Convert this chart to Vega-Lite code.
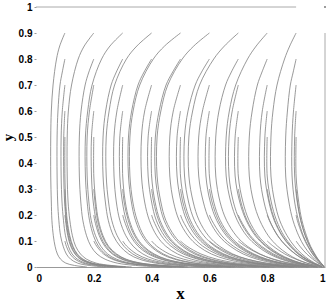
{"$schema":"https://vega.github.io/schema/vega-lite/v6.json","width":289,"height":260,"autosize":{"type":"none"},"padding":{"left":36,"top":7,"right":5,"bottom":37},"background":"white","config":{"view":{"stroke":null}},
"encoding":{
"x":{"field":"x","type":"quantitative","scale":{"domain":[0,1],"nice":false},"axis":{"values":[0,0.2,0.4,0.6,0.8,1],"format":"~g","grid":false,"ticks":false,"labelPadding":6,"labelOverlap":false,"labelFont":"Liberation Sans","labelFontWeight":"bold","labelFontSize":10,"labelColor":"black","domainColor":"#999999","title":"x","titleFont":"Liberation Serif","titleFontSize":17,"titleFontWeight":"bold","titleColor":"black","titleX":144,"titleY":31,"titleBaseline":"alphabetic"}},
"y":{"field":"y","type":"quantitative","scale":{"domain":[0,1],"nice":false},"axis":{"values":[0,0.1,0.2,0.3,0.4,0.5,0.6,0.7,0.8,0.9,1],"format":"~g","grid":false,"ticks":true,"tickSize":2,"tickColor":"#999999","labelPadding":2,"labelOverlap":false,"labelFont":"Liberation Sans","labelFontWeight":"bold","labelFontSize":10,"labelColor":"black","domain":false,"title":"y","titleFont":"Liberation Serif","titleFontSize":15,"titleFontWeight":"bold","titleColor":"black","titleX":-24,"titleY":130,"titleBaseline":"alphabetic"}}},
"layer":[
{"data":{"values":[
{"c":19,"x":0.1,"y":0.9},{"c":19,"x":0.082,"y":0.85},{"c":19,"x":0.071,"y":0.8},{"c":19,"x":0.059,"y":0.7},{"c":19,"x":0.053,"y":0.6},{"c":19,"x":0.051,"y":0.5},{"c":19,"x":0.051,"y":0.35},{"c":19,"x":0.053,"y":0.25},{"c":19,"x":0.055,"y":0.18},{"c":19,"x":0.06,"y":0.12},{"c":19,"x":0.066,"y":0.08},{"c":19,"x":0.074,"y":0.05},{"c":19,"x":0.085,"y":0.03},{"c":19,"x":0.103,"y":0.015},{"c":19,"x":0.133,"y":0.006},{"c":19,"x":0.176,"y":0},
{"c":18,"x":0.1,"y":0.8},{"c":18,"x":0.091,"y":0.75},{"c":18,"x":0.083,"y":0.7},{"c":18,"x":0.076,"y":0.6},{"c":18,"x":0.073,"y":0.5},{"c":18,"x":0.073,"y":0.35},{"c":18,"x":0.075,"y":0.25},{"c":18,"x":0.079,"y":0.18},{"c":18,"x":0.085,"y":0.12},{"c":18,"x":0.094,"y":0.08},{"c":18,"x":0.105,"y":0.05},{"c":18,"x":0.12,"y":0.03},{"c":18,"x":0.144,"y":0.015},{"c":18,"x":0.184,"y":0.006},{"c":18,"x":0.24,"y":0},
{"c":17,"x":0.1,"y":0.7},{"c":17,"x":0.091,"y":0.6},{"c":17,"x":0.087,"y":0.5},{"c":17,"x":0.087,"y":0.35},{"c":17,"x":0.09,"y":0.25},{"c":17,"x":0.095,"y":0.18},{"c":17,"x":0.102,"y":0.12},{"c":17,"x":0.112,"y":0.08},{"c":17,"x":0.125,"y":0.05},{"c":17,"x":0.143,"y":0.03},{"c":17,"x":0.171,"y":0.015},{"c":17,"x":0.216,"y":0.006},{"c":17,"x":0.279,"y":0},
{"c":16,"x":0.1,"y":0.6},{"c":16,"x":0.096,"y":0.5},{"c":16,"x":0.096,"y":0.35},{"c":16,"x":0.099,"y":0.25},{"c":16,"x":0.104,"y":0.18},{"c":16,"x":0.112,"y":0.12},{"c":16,"x":0.122,"y":0.08},{"c":16,"x":0.137,"y":0.05},{"c":16,"x":0.156,"y":0.03},{"c":16,"x":0.186,"y":0.015},{"c":16,"x":0.235,"y":0.006},{"c":16,"x":0.301,"y":0},
{"c":15,"x":0.1,"y":0.5},{"c":15,"x":0.1,"y":0.35},{"c":15,"x":0.103,"y":0.25},{"c":15,"x":0.108,"y":0.18},{"c":15,"x":0.117,"y":0.12},{"c":15,"x":0.128,"y":0.08},{"c":15,"x":0.143,"y":0.05},{"c":15,"x":0.163,"y":0.03},{"c":15,"x":0.194,"y":0.015},{"c":15,"x":0.244,"y":0.006},{"c":15,"x":0.312,"y":0},
{"c":13,"x":0.1,"y":0.3},{"c":13,"x":0.101,"y":0.25},{"c":13,"x":0.106,"y":0.18},{"c":13,"x":0.115,"y":0.12},{"c":13,"x":0.126,"y":0.08},{"c":13,"x":0.141,"y":0.05},{"c":13,"x":0.16,"y":0.03},{"c":13,"x":0.191,"y":0.015},{"c":13,"x":0.24,"y":0.006},{"c":13,"x":0.308,"y":0},
{"c":12,"x":0.1,"y":0.2},{"c":12,"x":0.102,"y":0.18},{"c":12,"x":0.11,"y":0.12},{"c":12,"x":0.12,"y":0.08},{"c":12,"x":0.135,"y":0.05},{"c":12,"x":0.153,"y":0.03},{"c":12,"x":0.183,"y":0.015},{"c":12,"x":0.231,"y":0.006},{"c":12,"x":0.297,"y":0},
{"c":11,"x":0.1,"y":0.1},{"c":11,"x":0.105,"y":0.08},{"c":11,"x":0.118,"y":0.05},{"c":11,"x":0.135,"y":0.03},{"c":11,"x":0.162,"y":0.015},{"c":11,"x":0.206,"y":0.006},{"c":11,"x":0.267,"y":0},
{"c":29,"x":0.2,"y":0.9},{"c":29,"x":0.167,"y":0.85},{"c":29,"x":0.146,"y":0.8},{"c":29,"x":0.123,"y":0.7},{"c":29,"x":0.112,"y":0.6},{"c":29,"x":0.108,"y":0.5},{"c":29,"x":0.108,"y":0.35},{"c":29,"x":0.111,"y":0.25},{"c":29,"x":0.117,"y":0.18},{"c":29,"x":0.126,"y":0.12},{"c":29,"x":0.137,"y":0.08},{"c":29,"x":0.154,"y":0.05},{"c":29,"x":0.175,"y":0.03},{"c":29,"x":0.208,"y":0.015},{"c":29,"x":0.26,"y":0.006},{"c":29,"x":0.331,"y":0},
{"c":28,"x":0.2,"y":0.8},{"c":28,"x":0.183,"y":0.75},{"c":28,"x":0.17,"y":0.7},{"c":28,"x":0.156,"y":0.6},{"c":28,"x":0.15,"y":0.5},{"c":28,"x":0.15,"y":0.35},{"c":28,"x":0.155,"y":0.25},{"c":28,"x":0.162,"y":0.18},{"c":28,"x":0.175,"y":0.12},{"c":28,"x":0.19,"y":0.08},{"c":28,"x":0.211,"y":0.05},{"c":28,"x":0.239,"y":0.03},{"c":28,"x":0.281,"y":0.015},{"c":28,"x":0.345,"y":0.006},{"c":28,"x":0.428,"y":0},
{"c":27,"x":0.2,"y":0.7},{"c":27,"x":0.185,"y":0.6},{"c":27,"x":0.177,"y":0.5},{"c":27,"x":0.177,"y":0.35},{"c":27,"x":0.183,"y":0.25},{"c":27,"x":0.191,"y":0.18},{"c":27,"x":0.206,"y":0.12},{"c":27,"x":0.224,"y":0.08},{"c":27,"x":0.248,"y":0.05},{"c":27,"x":0.279,"y":0.03},{"c":27,"x":0.326,"y":0.015},{"c":27,"x":0.397,"y":0.006},{"c":27,"x":0.484,"y":0},
{"c":26,"x":0.2,"y":0.6},{"c":26,"x":0.192,"y":0.5},{"c":26,"x":0.192,"y":0.35},{"c":26,"x":0.198,"y":0.25},{"c":26,"x":0.208,"y":0.18},{"c":26,"x":0.223,"y":0.12},{"c":26,"x":0.242,"y":0.08},{"c":26,"x":0.268,"y":0.05},{"c":26,"x":0.301,"y":0.03},{"c":26,"x":0.35,"y":0.015},{"c":26,"x":0.424,"y":0.006},{"c":26,"x":0.513,"y":0},
{"c":25,"x":0.2,"y":0.5},{"c":25,"x":0.2,"y":0.35},{"c":25,"x":0.207,"y":0.25},{"c":25,"x":0.216,"y":0.18},{"c":25,"x":0.232,"y":0.12},{"c":25,"x":0.251,"y":0.08},{"c":25,"x":0.279,"y":0.05},{"c":25,"x":0.312,"y":0.03},{"c":25,"x":0.363,"y":0.015},{"c":25,"x":0.438,"y":0.006},{"c":25,"x":0.527,"y":0},
{"c":23,"x":0.2,"y":0.3},{"c":23,"x":0.204,"y":0.25},{"c":23,"x":0.213,"y":0.18},{"c":23,"x":0.229,"y":0.12},{"c":23,"x":0.248,"y":0.08},{"c":23,"x":0.275,"y":0.05},{"c":23,"x":0.308,"y":0.03},{"c":23,"x":0.359,"y":0.015},{"c":23,"x":0.434,"y":0.006},{"c":23,"x":0.523,"y":0},
{"c":22,"x":0.2,"y":0.2},{"c":22,"x":0.203,"y":0.18},{"c":22,"x":0.219,"y":0.12},{"c":22,"x":0.238,"y":0.08},{"c":22,"x":0.264,"y":0.05},{"c":22,"x":0.296,"y":0.03},{"c":22,"x":0.346,"y":0.015},{"c":22,"x":0.419,"y":0.006},{"c":22,"x":0.509,"y":0},
{"c":21,"x":0.2,"y":0.1},{"c":21,"x":0.21,"y":0.08},{"c":21,"x":0.234,"y":0.05},{"c":21,"x":0.264,"y":0.03},{"c":21,"x":0.311,"y":0.015},{"c":21,"x":0.381,"y":0.006},{"c":21,"x":0.469,"y":0},
{"c":39,"x":0.3,"y":0.9},{"c":39,"x":0.256,"y":0.85},{"c":39,"x":0.227,"y":0.8},{"c":39,"x":0.194,"y":0.7},{"c":39,"x":0.179,"y":0.6},{"c":39,"x":0.171,"y":0.5},{"c":39,"x":0.171,"y":0.35},{"c":39,"x":0.177,"y":0.25},{"c":39,"x":0.185,"y":0.18},{"c":39,"x":0.199,"y":0.12},{"c":39,"x":0.216,"y":0.08},{"c":39,"x":0.24,"y":0.05},{"c":39,"x":0.27,"y":0.03},{"c":39,"x":0.316,"y":0.015},{"c":39,"x":0.385,"y":0.006},{"c":39,"x":0.471,"y":0},
{"c":38,"x":0.3,"y":0.8},{"c":38,"x":0.278,"y":0.75},{"c":38,"x":0.26,"y":0.7},{"c":38,"x":0.241,"y":0.6},{"c":38,"x":0.232,"y":0.5},{"c":38,"x":0.232,"y":0.35},{"c":38,"x":0.24,"y":0.25},{"c":38,"x":0.25,"y":0.18},{"c":38,"x":0.268,"y":0.12},{"c":38,"x":0.291,"y":0.08},{"c":38,"x":0.321,"y":0.05},{"c":38,"x":0.358,"y":0.03},{"c":38,"x":0.414,"y":0.015},{"c":38,"x":0.493,"y":0.006},{"c":38,"x":0.585,"y":0},
{"c":37,"x":0.3,"y":0.7},{"c":37,"x":0.28,"y":0.6},{"c":37,"x":0.27,"y":0.5},{"c":37,"x":0.27,"y":0.35},{"c":37,"x":0.278,"y":0.25},{"c":37,"x":0.29,"y":0.18},{"c":37,"x":0.311,"y":0.12},{"c":37,"x":0.336,"y":0.08},{"c":37,"x":0.37,"y":0.05},{"c":37,"x":0.41,"y":0.03},{"c":37,"x":0.471,"y":0.015},{"c":37,"x":0.553,"y":0.006},{"c":37,"x":0.645,"y":0},
{"c":36,"x":0.3,"y":0.6},{"c":36,"x":0.29,"y":0.5},{"c":36,"x":0.29,"y":0.35},{"c":36,"x":0.299,"y":0.25},{"c":36,"x":0.312,"y":0.18},{"c":36,"x":0.333,"y":0.12},{"c":36,"x":0.36,"y":0.08},{"c":36,"x":0.396,"y":0.05},{"c":36,"x":0.438,"y":0.03},{"c":36,"x":0.5,"y":0.015},{"c":36,"x":0.584,"y":0.006},{"c":36,"x":0.675,"y":0},
{"c":35,"x":0.3,"y":0.5},{"c":35,"x":0.3,"y":0.35},{"c":35,"x":0.309,"y":0.25},{"c":35,"x":0.323,"y":0.18},{"c":35,"x":0.345,"y":0.12},{"c":35,"x":0.372,"y":0.08},{"c":35,"x":0.409,"y":0.05},{"c":35,"x":0.452,"y":0.03},{"c":35,"x":0.515,"y":0.015},{"c":35,"x":0.599,"y":0.006},{"c":35,"x":0.69,"y":0},
{"c":33,"x":0.3,"y":0.3},{"c":33,"x":0.305,"y":0.25},{"c":33,"x":0.319,"y":0.18},{"c":33,"x":0.341,"y":0.12},{"c":33,"x":0.368,"y":0.08},{"c":33,"x":0.404,"y":0.05},{"c":33,"x":0.447,"y":0.03},{"c":33,"x":0.51,"y":0.015},{"c":33,"x":0.594,"y":0.006},{"c":33,"x":0.686,"y":0},
{"c":32,"x":0.3,"y":0.2},{"c":32,"x":0.305,"y":0.18},{"c":32,"x":0.327,"y":0.12},{"c":32,"x":0.353,"y":0.08},{"c":32,"x":0.389,"y":0.05},{"c":32,"x":0.432,"y":0.03},{"c":32,"x":0.494,"y":0.015},{"c":32,"x":0.579,"y":0.006},{"c":32,"x":0.672,"y":0},
{"c":31,"x":0.3,"y":0.1},{"c":31,"x":0.314,"y":0.08},{"c":31,"x":0.348,"y":0.05},{"c":31,"x":0.389,"y":0.03},{"c":31,"x":0.451,"y":0.015},{"c":31,"x":0.536,"y":0.006},{"c":31,"x":0.632,"y":0},
{"c":49,"x":0.4,"y":0.9},{"c":49,"x":0.349,"y":0.85},{"c":49,"x":0.313,"y":0.8},{"c":49,"x":0.272,"y":0.7},{"c":49,"x":0.253,"y":0.6},{"c":49,"x":0.243,"y":0.5},{"c":49,"x":0.243,"y":0.35},{"c":49,"x":0.251,"y":0.25},{"c":49,"x":0.262,"y":0.18},{"c":49,"x":0.281,"y":0.12},{"c":49,"x":0.304,"y":0.08},{"c":49,"x":0.335,"y":0.05},{"c":49,"x":0.373,"y":0.03},{"c":49,"x":0.43,"y":0.015},{"c":49,"x":0.511,"y":0.006},{"c":49,"x":0.603,"y":0},
{"c":48,"x":0.4,"y":0.8},{"c":48,"x":0.374,"y":0.75},{"c":48,"x":0.353,"y":0.7},{"c":48,"x":0.331,"y":0.6},{"c":48,"x":0.32,"y":0.5},{"c":48,"x":0.32,"y":0.35},{"c":48,"x":0.33,"y":0.25},{"c":48,"x":0.344,"y":0.18},{"c":48,"x":0.367,"y":0.12},{"c":48,"x":0.396,"y":0.08},{"c":48,"x":0.434,"y":0.05},{"c":48,"x":0.479,"y":0.03},{"c":48,"x":0.543,"y":0.015},{"c":48,"x":0.628,"y":0.006},{"c":48,"x":0.717,"y":0},
{"c":47,"x":0.4,"y":0.7},{"c":47,"x":0.376,"y":0.6},{"c":47,"x":0.365,"y":0.5},{"c":47,"x":0.365,"y":0.35},{"c":47,"x":0.376,"y":0.25},{"c":47,"x":0.392,"y":0.18},{"c":47,"x":0.418,"y":0.12},{"c":47,"x":0.449,"y":0.08},{"c":47,"x":0.49,"y":0.05},{"c":47,"x":0.538,"y":0.03},{"c":47,"x":0.604,"y":0.015},{"c":47,"x":0.688,"y":0.006},{"c":47,"x":0.772,"y":0},
{"c":46,"x":0.4,"y":0.6},{"c":46,"x":0.388,"y":0.5},{"c":46,"x":0.388,"y":0.35},{"c":46,"x":0.4,"y":0.25},{"c":46,"x":0.416,"y":0.18},{"c":46,"x":0.444,"y":0.12},{"c":46,"x":0.477,"y":0.08},{"c":46,"x":0.519,"y":0.05},{"c":46,"x":0.568,"y":0.03},{"c":46,"x":0.634,"y":0.015},{"c":46,"x":0.717,"y":0.006},{"c":46,"x":0.798,"y":0},
{"c":45,"x":0.4,"y":0.5},{"c":45,"x":0.4,"y":0.35},{"c":45,"x":0.412,"y":0.25},{"c":45,"x":0.429,"y":0.18},{"c":45,"x":0.457,"y":0.12},{"c":45,"x":0.491,"y":0.08},{"c":45,"x":0.533,"y":0.05},{"c":45,"x":0.583,"y":0.03},{"c":45,"x":0.65,"y":0.015},{"c":45,"x":0.732,"y":0.006},{"c":45,"x":0.81,"y":0},
{"c":43,"x":0.4,"y":0.3},{"c":43,"x":0.407,"y":0.25},{"c":43,"x":0.424,"y":0.18},{"c":43,"x":0.452,"y":0.12},{"c":43,"x":0.486,"y":0.08},{"c":43,"x":0.528,"y":0.05},{"c":43,"x":0.578,"y":0.03},{"c":43,"x":0.645,"y":0.015},{"c":43,"x":0.728,"y":0.006},{"c":43,"x":0.806,"y":0},
{"c":42,"x":0.4,"y":0.2},{"c":42,"x":0.406,"y":0.18},{"c":42,"x":0.434,"y":0.12},{"c":42,"x":0.467,"y":0.08},{"c":42,"x":0.51,"y":0.05},{"c":42,"x":0.56,"y":0.03},{"c":42,"x":0.628,"y":0.015},{"c":42,"x":0.713,"y":0.006},{"c":42,"x":0.795,"y":0},
{"c":41,"x":0.4,"y":0.1},{"c":41,"x":0.418,"y":0.08},{"c":41,"x":0.461,"y":0.05},{"c":41,"x":0.511,"y":0.03},{"c":41,"x":0.581,"y":0.015},{"c":41,"x":0.671,"y":0.006},{"c":41,"x":0.762,"y":0},
{"c":59,"x":0.5,"y":0.9},{"c":59,"x":0.445,"y":0.85},{"c":59,"x":0.406,"y":0.8},{"c":59,"x":0.359,"y":0.7},{"c":59,"x":0.336,"y":0.6},{"c":59,"x":0.325,"y":0.5},{"c":59,"x":0.325,"y":0.35},{"c":59,"x":0.335,"y":0.25},{"c":59,"x":0.35,"y":0.18},{"c":59,"x":0.373,"y":0.12},{"c":59,"x":0.402,"y":0.08},{"c":59,"x":0.441,"y":0.05},{"c":59,"x":0.486,"y":0.03},{"c":59,"x":0.551,"y":0.015},{"c":59,"x":0.636,"y":0.006},{"c":59,"x":0.724,"y":0},
{"c":58,"x":0.5,"y":0.8},{"c":58,"x":0.473,"y":0.75},{"c":58,"x":0.45,"y":0.7},{"c":58,"x":0.426,"y":0.6},{"c":58,"x":0.413,"y":0.5},{"c":58,"x":0.413,"y":0.35},{"c":58,"x":0.426,"y":0.25},{"c":58,"x":0.443,"y":0.18},{"c":58,"x":0.472,"y":0.12},{"c":58,"x":0.506,"y":0.08},{"c":58,"x":0.549,"y":0.05},{"c":58,"x":0.599,"y":0.03},{"c":58,"x":0.666,"y":0.015},{"c":58,"x":0.747,"y":0.006},{"c":58,"x":0.823,"y":0},
{"c":57,"x":0.5,"y":0.7},{"c":57,"x":0.475,"y":0.6},{"c":57,"x":0.463,"y":0.5},{"c":57,"x":0.463,"y":0.35},{"c":57,"x":0.476,"y":0.25},{"c":57,"x":0.495,"y":0.18},{"c":57,"x":0.526,"y":0.12},{"c":57,"x":0.562,"y":0.08},{"c":57,"x":0.607,"y":0.05},{"c":57,"x":0.658,"y":0.03},{"c":57,"x":0.724,"y":0.015},{"c":57,"x":0.8,"y":0.006},{"c":57,"x":0.867,"y":0},
{"c":56,"x":0.5,"y":0.6},{"c":56,"x":0.488,"y":0.5},{"c":56,"x":0.488,"y":0.35},{"c":56,"x":0.502,"y":0.25},{"c":56,"x":0.521,"y":0.18},{"c":56,"x":0.553,"y":0.12},{"c":56,"x":0.59,"y":0.08},{"c":56,"x":0.636,"y":0.05},{"c":56,"x":0.686,"y":0.03},{"c":56,"x":0.751,"y":0.015},{"c":56,"x":0.823,"y":0.006},{"c":56,"x":0.885,"y":0},
{"c":55,"x":0.5,"y":0.5},{"c":55,"x":0.5,"y":0.35},{"c":55,"x":0.514,"y":0.25},{"c":55,"x":0.534,"y":0.18},{"c":55,"x":0.566,"y":0.12},{"c":55,"x":0.603,"y":0.08},{"c":55,"x":0.65,"y":0.05},{"c":55,"x":0.7,"y":0.03},{"c":55,"x":0.763,"y":0.015},{"c":55,"x":0.834,"y":0.006},{"c":55,"x":0.894,"y":0},
{"c":53,"x":0.5,"y":0.3},{"c":53,"x":0.508,"y":0.25},{"c":53,"x":0.528,"y":0.18},{"c":53,"x":0.56,"y":0.12},{"c":53,"x":0.597,"y":0.08},{"c":53,"x":0.644,"y":0.05},{"c":53,"x":0.695,"y":0.03},{"c":53,"x":0.758,"y":0.015},{"c":53,"x":0.83,"y":0.006},{"c":53,"x":0.891,"y":0},
{"c":52,"x":0.5,"y":0.2},{"c":52,"x":0.507,"y":0.18},{"c":52,"x":0.54,"y":0.12},{"c":52,"x":0.577,"y":0.08},{"c":52,"x":0.625,"y":0.05},{"c":52,"x":0.677,"y":0.03},{"c":52,"x":0.743,"y":0.015},{"c":52,"x":0.819,"y":0.006},{"c":52,"x":0.883,"y":0},
{"c":51,"x":0.5,"y":0.1},{"c":51,"x":0.522,"y":0.08},{"c":51,"x":0.571,"y":0.05},{"c":51,"x":0.626,"y":0.03},{"c":51,"x":0.698,"y":0.015},{"c":51,"x":0.783,"y":0.006},{"c":51,"x":0.858,"y":0},
{"c":69,"x":0.6,"y":0.9},{"c":69,"x":0.546,"y":0.85},{"c":69,"x":0.506,"y":0.8},{"c":69,"x":0.456,"y":0.7},{"c":69,"x":0.432,"y":0.6},{"c":69,"x":0.419,"y":0.5},{"c":69,"x":0.419,"y":0.35},{"c":69,"x":0.432,"y":0.25},{"c":69,"x":0.449,"y":0.18},{"c":69,"x":0.479,"y":0.12},{"c":69,"x":0.513,"y":0.08},{"c":69,"x":0.557,"y":0.05},{"c":69,"x":0.607,"y":0.03},{"c":69,"x":0.673,"y":0.015},{"c":69,"x":0.754,"y":0.006},{"c":69,"x":0.829,"y":0},
{"c":68,"x":0.6,"y":0.8},{"c":68,"x":0.573,"y":0.75},{"c":68,"x":0.551,"y":0.7},{"c":68,"x":0.526,"y":0.6},{"c":68,"x":0.514,"y":0.5},{"c":68,"x":0.514,"y":0.35},{"c":68,"x":0.528,"y":0.25},{"c":68,"x":0.548,"y":0.18},{"c":68,"x":0.581,"y":0.12},{"c":68,"x":0.619,"y":0.08},{"c":68,"x":0.665,"y":0.05},{"c":68,"x":0.715,"y":0.03},{"c":68,"x":0.777,"y":0.015},{"c":68,"x":0.846,"y":0.006},{"c":68,"x":0.903,"y":0},
{"c":67,"x":0.6,"y":0.7},{"c":67,"x":0.576,"y":0.6},{"c":67,"x":0.563,"y":0.5},{"c":67,"x":0.563,"y":0.35},{"c":67,"x":0.579,"y":0.25},{"c":67,"x":0.6,"y":0.18},{"c":67,"x":0.633,"y":0.12},{"c":67,"x":0.672,"y":0.08},{"c":67,"x":0.717,"y":0.05},{"c":67,"x":0.765,"y":0.03},{"c":67,"x":0.823,"y":0.015},{"c":67,"x":0.883,"y":0.006},{"c":67,"x":0.93,"y":0},
{"c":66,"x":0.6,"y":0.6},{"c":66,"x":0.588,"y":0.5},{"c":66,"x":0.588,"y":0.35},{"c":66,"x":0.603,"y":0.25},{"c":66,"x":0.625,"y":0.18},{"c":66,"x":0.659,"y":0.12},{"c":66,"x":0.697,"y":0.08},{"c":66,"x":0.742,"y":0.05},{"c":66,"x":0.788,"y":0.03},{"c":66,"x":0.844,"y":0.015},{"c":66,"x":0.899,"y":0.006},{"c":66,"x":0.941,"y":0},
{"c":65,"x":0.6,"y":0.5},{"c":65,"x":0.6,"y":0.35},{"c":65,"x":0.615,"y":0.25},{"c":65,"x":0.637,"y":0.18},{"c":65,"x":0.671,"y":0.12},{"c":65,"x":0.709,"y":0.08},{"c":65,"x":0.754,"y":0.05},{"c":65,"x":0.8,"y":0.03},{"c":65,"x":0.853,"y":0.015},{"c":65,"x":0.906,"y":0.006},{"c":65,"x":0.946,"y":0},
{"c":63,"x":0.6,"y":0.3},{"c":63,"x":0.609,"y":0.25},{"c":63,"x":0.631,"y":0.18},{"c":63,"x":0.665,"y":0.12},{"c":63,"x":0.703,"y":0.08},{"c":63,"x":0.749,"y":0.05},{"c":63,"x":0.795,"y":0.03},{"c":63,"x":0.849,"y":0.015},{"c":63,"x":0.903,"y":0.006},{"c":63,"x":0.944,"y":0},
{"c":62,"x":0.6,"y":0.2},{"c":62,"x":0.608,"y":0.18},{"c":62,"x":0.643,"y":0.12},{"c":62,"x":0.683,"y":0.08},{"c":62,"x":0.73,"y":0.05},{"c":62,"x":0.779,"y":0.03},{"c":62,"x":0.837,"y":0.015},{"c":62,"x":0.895,"y":0.006},{"c":62,"x":0.939,"y":0},
{"c":61,"x":0.6,"y":0.1},{"c":61,"x":0.624,"y":0.08},{"c":61,"x":0.675,"y":0.05},{"c":61,"x":0.731,"y":0.03},{"c":61,"x":0.798,"y":0.015},{"c":61,"x":0.868,"y":0.006},{"c":61,"x":0.923,"y":0},
{"c":79,"x":0.7,"y":0.9},{"c":79,"x":0.652,"y":0.85},{"c":79,"x":0.615,"y":0.8},{"c":79,"x":0.566,"y":0.7},{"c":79,"x":0.542,"y":0.6},{"c":79,"x":0.529,"y":0.5},{"c":79,"x":0.529,"y":0.35},{"c":79,"x":0.544,"y":0.25},{"c":79,"x":0.564,"y":0.18},{"c":79,"x":0.597,"y":0.12},{"c":79,"x":0.635,"y":0.08},{"c":79,"x":0.681,"y":0.05},{"c":79,"x":0.731,"y":0.03},{"c":79,"x":0.792,"y":0.015},{"c":79,"x":0.858,"y":0.006},{"c":79,"x":0.912,"y":0},
{"c":78,"x":0.7,"y":0.8},{"c":78,"x":0.676,"y":0.75},{"c":78,"x":0.656,"y":0.7},{"c":78,"x":0.633,"y":0.6},{"c":78,"x":0.622,"y":0.5},{"c":78,"x":0.622,"y":0.35},{"c":78,"x":0.637,"y":0.25},{"c":78,"x":0.659,"y":0.18},{"c":78,"x":0.693,"y":0.12},{"c":78,"x":0.731,"y":0.08},{"c":78,"x":0.775,"y":0.05},{"c":78,"x":0.819,"y":0.03},{"c":78,"x":0.87,"y":0.015},{"c":78,"x":0.919,"y":0.006},{"c":78,"x":0.954,"y":0},
{"c":77,"x":0.7,"y":0.7},{"c":77,"x":0.679,"y":0.6},{"c":77,"x":0.668,"y":0.5},{"c":77,"x":0.668,"y":0.35},{"c":77,"x":0.683,"y":0.25},{"c":77,"x":0.705,"y":0.18},{"c":77,"x":0.738,"y":0.12},{"c":77,"x":0.774,"y":0.08},{"c":77,"x":0.815,"y":0.05},{"c":77,"x":0.855,"y":0.03},{"c":77,"x":0.9,"y":0.015},{"c":77,"x":0.94,"y":0.006},{"c":77,"x":0.968,"y":0},
{"c":76,"x":0.7,"y":0.6},{"c":76,"x":0.689,"y":0.5},{"c":76,"x":0.689,"y":0.35},{"c":76,"x":0.705,"y":0.25},{"c":76,"x":0.727,"y":0.18},{"c":76,"x":0.759,"y":0.12},{"c":76,"x":0.794,"y":0.08},{"c":76,"x":0.833,"y":0.05},{"c":76,"x":0.871,"y":0.03},{"c":76,"x":0.912,"y":0.015},{"c":76,"x":0.949,"y":0.006},{"c":76,"x":0.973,"y":0},
{"c":75,"x":0.7,"y":0.5},{"c":75,"x":0.7,"y":0.35},{"c":75,"x":0.716,"y":0.25},{"c":75,"x":0.737,"y":0.18},{"c":75,"x":0.769,"y":0.12},{"c":75,"x":0.804,"y":0.08},{"c":75,"x":0.842,"y":0.05},{"c":75,"x":0.879,"y":0.03},{"c":75,"x":0.918,"y":0.015},{"c":75,"x":0.953,"y":0.006},{"c":75,"x":0.976,"y":0},
{"c":73,"x":0.7,"y":0.3},{"c":73,"x":0.709,"y":0.25},{"c":73,"x":0.73,"y":0.18},{"c":73,"x":0.763,"y":0.12},{"c":73,"x":0.798,"y":0.08},{"c":73,"x":0.837,"y":0.05},{"c":73,"x":0.875,"y":0.03},{"c":73,"x":0.915,"y":0.015},{"c":73,"x":0.951,"y":0.006},{"c":73,"x":0.975,"y":0},
{"c":72,"x":0.7,"y":0.2},{"c":72,"x":0.708,"y":0.18},{"c":72,"x":0.742,"y":0.12},{"c":72,"x":0.78,"y":0.08},{"c":72,"x":0.822,"y":0.05},{"c":72,"x":0.863,"y":0.03},{"c":72,"x":0.907,"y":0.015},{"c":72,"x":0.946,"y":0.006},{"c":72,"x":0.972,"y":0},
{"c":71,"x":0.7,"y":0.1},{"c":71,"x":0.724,"y":0.08},{"c":71,"x":0.773,"y":0.05},{"c":71,"x":0.823,"y":0.03},{"c":71,"x":0.878,"y":0.015},{"c":71,"x":0.928,"y":0.006},{"c":71,"x":0.963,"y":0},
{"c":89,"x":0.8,"y":0.9},{"c":89,"x":0.762,"y":0.85},{"c":89,"x":0.732,"y":0.8},{"c":89,"x":0.691,"y":0.7},{"c":89,"x":0.669,"y":0.6},{"c":89,"x":0.658,"y":0.5},{"c":89,"x":0.658,"y":0.35},{"c":89,"x":0.674,"y":0.25},{"c":89,"x":0.696,"y":0.18},{"c":89,"x":0.729,"y":0.12},{"c":89,"x":0.766,"y":0.08},{"c":89,"x":0.807,"y":0.05},{"c":89,"x":0.848,"y":0.03},{"c":89,"x":0.894,"y":0.015},{"c":89,"x":0.936,"y":0.006},{"c":89,"x":0.966,"y":0},
{"c":88,"x":0.8,"y":0.8},{"c":88,"x":0.782,"y":0.75},{"c":88,"x":0.766,"y":0.7},{"c":88,"x":0.748,"y":0.6},{"c":88,"x":0.738,"y":0.5},{"c":88,"x":0.738,"y":0.35},{"c":88,"x":0.753,"y":0.25},{"c":88,"x":0.774,"y":0.18},{"c":88,"x":0.804,"y":0.12},{"c":88,"x":0.836,"y":0.08},{"c":88,"x":0.871,"y":0.05},{"c":88,"x":0.903,"y":0.03},{"c":88,"x":0.937,"y":0.015},{"c":88,"x":0.965,"y":0.006},{"c":88,"x":0.983,"y":0},
{"c":87,"x":0.8,"y":0.7},{"c":87,"x":0.783,"y":0.6},{"c":87,"x":0.775,"y":0.5},{"c":87,"x":0.775,"y":0.35},{"c":87,"x":0.789,"y":0.25},{"c":87,"x":0.808,"y":0.18},{"c":87,"x":0.837,"y":0.12},{"c":87,"x":0.866,"y":0.08},{"c":87,"x":0.897,"y":0.05},{"c":87,"x":0.924,"y":0.03},{"c":87,"x":0.952,"y":0.015},{"c":87,"x":0.975,"y":0.006},{"c":87,"x":0.988,"y":0},
{"c":86,"x":0.8,"y":0.6},{"c":86,"x":0.792,"y":0.5},{"c":86,"x":0.792,"y":0.35},{"c":86,"x":0.806,"y":0.25},{"c":86,"x":0.824,"y":0.18},{"c":86,"x":0.851,"y":0.12},{"c":86,"x":0.879,"y":0.08},{"c":86,"x":0.907,"y":0.05},{"c":86,"x":0.933,"y":0.03},{"c":86,"x":0.958,"y":0.015},{"c":86,"x":0.978,"y":0.006},{"c":86,"x":0.99,"y":0},
{"c":85,"x":0.8,"y":0.5},{"c":85,"x":0.8,"y":0.35},{"c":85,"x":0.814,"y":0.25},{"c":85,"x":0.832,"y":0.18},{"c":85,"x":0.858,"y":0.12},{"c":85,"x":0.885,"y":0.08},{"c":85,"x":0.912,"y":0.05},{"c":85,"x":0.937,"y":0.03},{"c":85,"x":0.961,"y":0.015},{"c":85,"x":0.98,"y":0.006},{"c":85,"x":0.991,"y":0},
{"c":83,"x":0.8,"y":0.3},{"c":83,"x":0.808,"y":0.25},{"c":83,"x":0.826,"y":0.18},{"c":83,"x":0.853,"y":0.12},{"c":83,"x":0.881,"y":0.08},{"c":83,"x":0.909,"y":0.05},{"c":83,"x":0.935,"y":0.03},{"c":83,"x":0.959,"y":0.015},{"c":83,"x":0.979,"y":0.006},{"c":83,"x":0.99,"y":0},
{"c":82,"x":0.8,"y":0.2},{"c":82,"x":0.807,"y":0.18},{"c":82,"x":0.836,"y":0.12},{"c":82,"x":0.867,"y":0.08},{"c":82,"x":0.898,"y":0.05},{"c":82,"x":0.926,"y":0.03},{"c":82,"x":0.954,"y":0.015},{"c":82,"x":0.976,"y":0.006},{"c":82,"x":0.989,"y":0},
{"c":81,"x":0.8,"y":0.1},{"c":81,"x":0.821,"y":0.08},{"c":81,"x":0.861,"y":0.05},{"c":81,"x":0.899,"y":0.03},{"c":81,"x":0.936,"y":0.015},{"c":81,"x":0.967,"y":0.006},{"c":81,"x":0.985,"y":0},
{"c":99,"x":0.9,"y":0.9},{"c":99,"x":0.878,"y":0.85},{"c":99,"x":0.86,"y":0.8},{"c":99,"x":0.834,"y":0.7},{"c":99,"x":0.82,"y":0.6},{"c":99,"x":0.813,"y":0.5},{"c":99,"x":0.813,"y":0.35},{"c":99,"x":0.826,"y":0.25},{"c":99,"x":0.843,"y":0.18},{"c":99,"x":0.869,"y":0.12},{"c":99,"x":0.894,"y":0.08},{"c":99,"x":0.92,"y":0.05},{"c":99,"x":0.943,"y":0.03},{"c":99,"x":0.965,"y":0.015},{"c":99,"x":0.982,"y":0.006},{"c":99,"x":0.992,"y":0},
{"c":98,"x":0.9,"y":0.8},{"c":98,"x":0.89,"y":0.75},{"c":98,"x":0.88,"y":0.7},{"c":98,"x":0.87,"y":0.6},{"c":98,"x":0.864,"y":0.5},{"c":98,"x":0.864,"y":0.35},{"c":98,"x":0.875,"y":0.25},{"c":98,"x":0.889,"y":0.18},{"c":98,"x":0.909,"y":0.12},{"c":98,"x":0.928,"y":0.08},{"c":98,"x":0.948,"y":0.05},{"c":98,"x":0.964,"y":0.03},{"c":98,"x":0.979,"y":0.015},{"c":98,"x":0.99,"y":0.006},{"c":98,"x":0.996,"y":0},
{"c":97,"x":0.9,"y":0.7},{"c":97,"x":0.891,"y":0.6},{"c":97,"x":0.886,"y":0.5},{"c":97,"x":0.886,"y":0.35},{"c":97,"x":0.895,"y":0.25},{"c":97,"x":0.908,"y":0.18},{"c":97,"x":0.925,"y":0.12},{"c":97,"x":0.942,"y":0.08},{"c":97,"x":0.958,"y":0.05},{"c":97,"x":0.972,"y":0.03},{"c":97,"x":0.984,"y":0.015},{"c":97,"x":0.993,"y":0.006},{"c":97,"x":0.997,"y":0},
{"c":96,"x":0.9,"y":0.6},{"c":96,"x":0.895,"y":0.5},{"c":96,"x":0.895,"y":0.35},{"c":96,"x":0.904,"y":0.25},{"c":96,"x":0.916,"y":0.18},{"c":96,"x":0.932,"y":0.12},{"c":96,"x":0.948,"y":0.08},{"c":96,"x":0.962,"y":0.05},{"c":96,"x":0.975,"y":0.03},{"c":96,"x":0.986,"y":0.015},{"c":96,"x":0.993,"y":0.006},{"c":96,"x":0.997,"y":0},
{"c":95,"x":0.9,"y":0.5},{"c":95,"x":0.9,"y":0.35},{"c":95,"x":0.909,"y":0.25},{"c":95,"x":0.92,"y":0.18},{"c":95,"x":0.936,"y":0.12},{"c":95,"x":0.95,"y":0.08},{"c":95,"x":0.965,"y":0.05},{"c":95,"x":0.976,"y":0.03},{"c":95,"x":0.987,"y":0.015},{"c":95,"x":0.994,"y":0.006},{"c":95,"x":0.998,"y":0},
{"c":93,"x":0.9,"y":0.3},{"c":93,"x":0.905,"y":0.25},{"c":93,"x":0.916,"y":0.18},{"c":93,"x":0.932,"y":0.12},{"c":93,"x":0.947,"y":0.08},{"c":93,"x":0.963,"y":0.05},{"c":93,"x":0.975,"y":0.03},{"c":93,"x":0.986,"y":0.015},{"c":93,"x":0.993,"y":0.006},{"c":93,"x":0.997,"y":0},
{"c":92,"x":0.9,"y":0.2},{"c":92,"x":0.904,"y":0.18},{"c":92,"x":0.923,"y":0.12},{"c":92,"x":0.94,"y":0.08},{"c":92,"x":0.957,"y":0.05},{"c":92,"x":0.971,"y":0.03},{"c":92,"x":0.984,"y":0.015},{"c":92,"x":0.993,"y":0.006},{"c":92,"x":0.997,"y":0},
{"c":91,"x":0.9,"y":0.1},{"c":91,"x":0.913,"y":0.08},{"c":91,"x":0.937,"y":0.05},{"c":91,"x":0.958,"y":0.03},{"c":91,"x":0.976,"y":0.015},{"c":91,"x":0.989,"y":0.006},{"c":91,"x":0.996,"y":0}
]},
"mark":{"type":"line","stroke":"#878787","strokeWidth":0.85,"interpolate":"catmull-rom"},
"encoding":{"detail":{"field":"c","type":"nominal"},"order":{"field":"y","type":"quantitative","sort":"descending"}}},
{"data":{"values":[{"x":0,"x2":0.9,"y":1,"y2":1},{"x":1,"x2":1,"y":0,"y2":0.9}]},
"mark":{"type":"rule","stroke":"#aaaaaa","strokeWidth":1},
"encoding":{"x2":{"field":"x2"},"y2":{"field":"y2"}}},
{"data":{"values":[{"x":1,"y":1}]},
"mark":{"type":"square","size":3,"color":"#666666","opacity":1},
"encoding":{}}
]}
